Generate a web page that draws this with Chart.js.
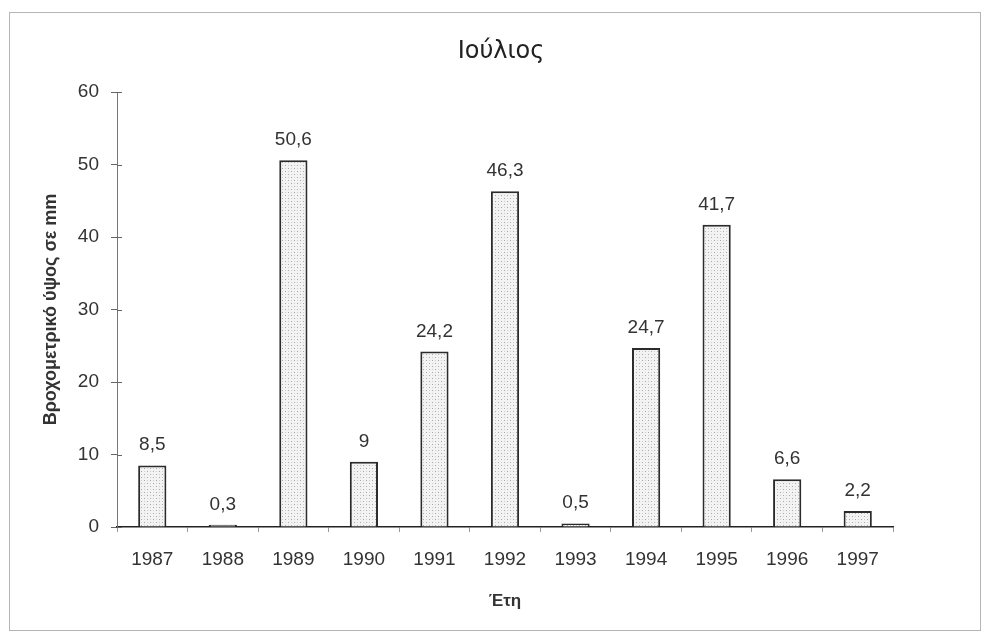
<!DOCTYPE html>
<html>
<head>
<meta charset="utf-8">
<script src="https://cdn.jsdelivr.net/npm/chart.js@4"></script>
<style>
  html, body { margin: 0; padding: 0; background: #fff; }
  #wrap { position: relative; width: 984px; height: 633px; }
  #frame { position: absolute; left: 9px; top: 12px; width: 970px; height: 617px;
           border: 1px solid #b5b5b5; pointer-events: none; }
</style>
</head>
<body>
<div id="wrap">
  <canvas id="myChart"></canvas>
  <div id="frame"></div>
</div>
<script>
// κατηγορίες (έτη)
const years = ['1987', '1988', '1989', '1990', '1991', '1992', '1993', '1994', '1995', '1996', '1997'];
// βροχομετρικό ύψος σε mm
const rainfall = [8.5, 0.3, 50.6, 9, 24.2, 46.3, 0.5, 24.7, 41.7, 6.6, 2.2];
// ετικέτες άξονα y
const yTicks = [0, 10, 20, 30, 40, 50, 60];

const FONT = '"Liberation Sans", Arial, sans-serif';

// μοτίβο με κουκκίδες για το γέμισμα των ράβδων
function dotPattern() {
  const c = document.createElement('canvas');
  c.width = 6;
  c.height = 6;
  const g = c.getContext('2d');
  g.fillStyle = '#f3f3f3';
  g.fillRect(0, 0, 6, 6);
  g.fillStyle = '#a8a8a8';
  g.fillRect(0, 0, 1, 1);
  g.fillRect(3, 3, 1, 1);
  g.fillStyle = '#cfcfcf';
  g.fillRect(3, 0, 1, 1);
  g.fillRect(0, 3, 1, 1);
  return g.createPattern(c, 'repeat');
}

// τίτλος του διαγράμματος
const chartTitle = {
  id: 'chartTitle',
  afterDraw(chart) {
    const ctx = chart.ctx;
    ctx.save();
    ctx.font = '24px "DejaVu Sans", sans-serif';
    ctx.fillStyle = '#222';
    ctx.textAlign = 'center';
    ctx.textBaseline = 'middle';
    ctx.fillText('Ιούλιος', 501, 52);
    ctx.restore();
  },
};

// ετικέτες τιμών πάνω από τις ράβδους
const valueLabels = {
  id: 'valueLabels',
  afterDatasetsDraw(chart) {
    const ctx = chart.ctx;
    const meta = chart.getDatasetMeta(0);
    ctx.save();
    ctx.font = '19px ' + FONT;
    ctx.fillStyle = '#333';
    ctx.textAlign = 'center';
    ctx.textBaseline = 'alphabetic';
    meta.data.forEach((bar, i) => {
      const txt = String(rainfall[i]).replace('.', ',');
      ctx.fillText(txt, bar.x, bar.y - 15);
    });
    ctx.restore();
  },
};

// μικρές γραμμές ticks και μέσα από τον άξονα y
const innerTicks = {
  id: 'innerTicks',
  afterDraw(chart) {
    const ctx = chart.ctx;
    const y = chart.scales.y;
    ctx.save();
    ctx.strokeStyle = '#666';
    ctx.lineWidth = 1;
    y.ticks.forEach((t) => {
      const py = Math.round(y.getPixelForValue(t.value)) + 0.5;
      ctx.beginPath();
      ctx.moveTo(y.right, py);
      ctx.lineTo(y.right + 5, py);
      ctx.stroke();
    });
    ctx.restore();
  },
};

const chartGraph = document.querySelector('#myChart');

new Chart(chartGraph, {
  type: 'bar',
  data: {
    labels: years,
    datasets: [
      {
        data: rainfall,
        backgroundColor: dotPattern(),
        borderColor: '#2b2b2b',
        borderWidth: 2,
        barPercentage: 0.4,
        categoryPercentage: 1,
      },
    ],
  },
  options: {
    responsive: true,
    maintainAspectRatio: false,
    animation: false,
    layout: { padding: { top: 92, right: 91, bottom: 0, left: 0 } },
    plugins: {
      legend: { display: false },
      tooltip: { enabled: false },
      title: { display: false },
    },
    scales: {
      x: {
        offset: true,
        afterFit(scale) { scale.height = 633 - 527; },
        grid: {
          offset: true,
          drawOnChartArea: false,
          tickLength: 5,
          color: '#999',
        },
        border: { display: true, color: '#222', width: 1.5 },
        ticks: { color: '#333', font: { family: FONT, size: 19 }, padding: 16, maxRotation: 0 },
        title: {
          display: true,
          text: 'Έτη',
          color: '#333',
          font: { family: FONT, size: 17, weight: 'bold' },
          padding: { top: 0, bottom: 21 },
        },
      },
      y: {
        min: 0,
        max: 60,
        afterFit(scale) { scale.width = 117; },
        afterBuildTicks(scale) { scale.ticks = yTicks.map((v) => ({ value: v })); },
        grid: { drawOnChartArea: false, tickLength: 6, color: '#666' },
        border: { display: true, color: '#777', width: 1, dash: [4, 2] },
        ticks: { color: '#333', font: { family: FONT, size: 19 }, padding: 12 },
        title: {
          display: true,
          text: 'Βροχομετρικό ύψος σε mm',
          color: '#333',
          font: { family: FONT, size: 18, weight: 'bold' },
          padding: { bottom: 0, top: 40 },
        },
      },
    },
  },
  plugins: [valueLabels, innerTicks, chartTitle],
});
</script>
</body>
</html>
